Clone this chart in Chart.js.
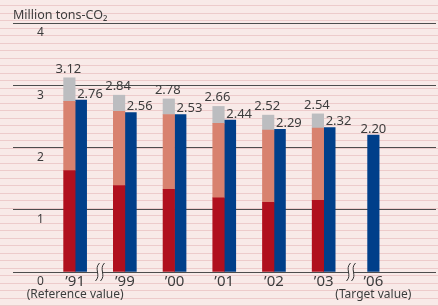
<!DOCTYPE html>
<html>
<head>
<meta charset="utf-8">
<script src="https://cdn.jsdelivr.net/npm/chart.js@4/dist/chart.umd.min.js"></script>
<style>
    html, body { margin: 0; padding: 0; background: #f8eae8; }
    #chart { width: 438px; height: 306px; }
</style>
</head>
<body>
<div id="chart">
    <canvas id="co2-chart" width="438" height="306"></canvas>
</div>
<script>
// fiscal years on the x axis, with the notes printed under the first and last
var years = ['’91', '’99', '’00', '’01', '’02', '’03', '’06'];
var notes = ['(Reference value)', '', '', '', '', '', '(Target value)'];

// left column: three stacked parts, total written on top
var redPart    = [1.63, 1.39, 1.33, 1.19, 1.12, 1.15, null];
var salmonPart = [1.11, 1.19, 1.20, 1.20, 1.16, 1.16, null];
var greyPart   = [0.38, 0.26, 0.25, 0.27, 0.24, 0.23, null];
var totals     = [3.12, 2.84, 2.78, 2.66, 2.52, 2.54, null];

// right column (blue)
var blueValues = [2.76, 2.56, 2.53, 2.44, 2.29, 2.32, 2.20];

var yMax = 4;
var breakMarks = [0.5, 5.55]; // "≈" axis break between '91/'99 and '03/'06

var textColor = '#3c3c3c';
var bgColor = '#f8eae8';
Chart.defaults.font.family = '"Noto Sans", sans-serif';

function pts(arr) {
    return arr.map(function(v, i) { return { x: i, y: v }; });
}

var background = {
    id: 'background',
    beforeDraw: function(chart) {
        var ctx = chart.ctx;
        ctx.save();
        ctx.fillStyle = bgColor;
        ctx.fillRect(0, 0, chart.width, chart.height);
        ctx.fillStyle = '#edcbcb';
        for (var y = 5; y < chart.height; y += 7.5) {
            ctx.fillRect(0, Math.round(y), chart.width, 1);
        }
        ctx.restore();
    }
};

var valueLabels = {
    id: 'valueLabels',
    afterDatasetsDraw: function(chart) {
        var ctx = chart.ctx;
        ctx.save();
        ctx.font = '13px "Noto Sans"';
        ctx.fillStyle = textColor;
        ctx.textBaseline = 'alphabetic';
        chart.getDatasetMeta(2).data.forEach(function(bar, i) {
            if (totals[i] == null) return;
            ctx.textAlign = 'center';
            ctx.fillText(totals[i].toFixed(2), bar.x - 1, bar.y - 5);
        });
        chart.getDatasetMeta(3).data.forEach(function(bar, i) {
            var txt = blueValues[i].toFixed(2);
            if (totals[i] == null) {
                ctx.textAlign = 'center';
                ctx.fillText(txt, bar.x, bar.y - 2);
            } else {
                ctx.textAlign = 'left';
                ctx.fillText(txt, bar.x - bar.width / 2 + 2, bar.y - 2.5);
            }
        });
        ctx.restore();
    }
};

var axisBreaks = {
    id: 'axisBreaks',
    afterDraw: function(chart) {
        var ctx = chart.ctx;
        var xs = chart.scales.x, ys = chart.scales.y;
        ctx.save();
        breakMarks.forEach(function(v) {
            var cx = xs.getPixelForValue(v);
            var cy = ys.getPixelForValue(0);
            var top = cy - 9, bot = cy + 9;
            var l = cx - 2.5, r = cx + 2.5;
            // gap between the two strokes
            ctx.beginPath();
            ctx.moveTo(l + 2, top);
            ctx.bezierCurveTo(l - 4, top + 6, l + 4, bot - 6, l - 2, bot);
            ctx.lineTo(r - 2, bot);
            ctx.bezierCurveTo(r + 4, bot - 6, r - 4, top + 6, r + 2, top);
            ctx.closePath();
            ctx.fillStyle = bgColor;
            ctx.fill();
            ctx.strokeStyle = '#333';
            ctx.lineWidth = 1;
            [l, r].forEach(function(x0) {
                ctx.beginPath();
                ctx.moveTo(x0 + 2, top);
                ctx.bezierCurveTo(x0 - 4, top + 6, x0 + 4, bot - 6, x0 - 2, bot);
                ctx.stroke();
            });
        });
        ctx.restore();
    }
};

var xMin = -1.25, xMax = 7.26;

function noSidePadding(scale) {
    scale.paddingLeft = 0;
    scale.paddingRight = 0;
}

new Chart(document.getElementById('co2-chart'), {
    type: 'bar',
    data: {
        datasets: [
            { data: pts(redPart), backgroundColor: '#b0101e', stack: 'a' },
            { data: pts(salmonPart), backgroundColor: '#d8826f', stack: 'a' },
            { data: pts(greyPart), backgroundColor: '#bcbdc0', stack: 'a' },
            { data: pts(blueValues), backgroundColor: '#003f8a', stack: 'b' }
        ]
    },
    options: {
        responsive: false,
        animation: false,
        devicePixelRatio: 1,
        skipNull: true,
        barThickness: 11.5,
        borderSkipped: false,
        layout: { padding: { left: 13, right: 2, top: 0, bottom: 5 } },
        plugins: {
            legend: { display: false },
            tooltip: { enabled: false },
            title: {
                display: true,
                text: 'Million tons-CO₂',
                align: 'start',
                color: textColor,
                font: { size: 12.5, weight: 'normal' },
                padding: { top: 8, bottom: 0 }
            }
        },
        scales: {
            x: {
                type: 'linear',
                min: xMin,
                max: xMax,
                offset: false,
                grid: { display: false, drawTicks: false },
                border: { display: false },
                afterFit: function(scale) { noSidePadding(scale); scale.height = 17; },
                ticks: {
                    stepSize: 1,
                    autoSkip: false,
                    maxRotation: 0,
                    padding: 2,
                    color: textColor,
                    font: { size: 15, lineHeight: 1 },
                    callback: function(v) { return Number.isInteger(v) ? (years[v] || '') : ''; }
                }
            },
            x2: {
                type: 'linear',
                position: 'bottom',
                min: xMin,
                max: xMax,
                offset: false,
                grid: { display: false, drawTicks: false },
                border: { display: false },
                afterFit: function(scale) { noSidePadding(scale); scale.height = 12; },
                ticks: {
                    stepSize: 1,
                    autoSkip: false,
                    maxRotation: 0,
                    padding: 0,
                    color: textColor,
                    font: { size: 12, lineHeight: 1 },
                    callback: function(v) { return Number.isInteger(v) ? (notes[v] || '') : ''; }
                }
            },
            y: {
                min: 0,
                max: yMax,
                stacked: true,
                grid: { color: '#4d4d4d', lineWidth: 1, drawTicks: false },
                border: { display: false },
                afterFit: function(scale) {
                    scale.width = 0;
                    scale.paddingTop = 0;
                    scale.paddingBottom = 0;
                },
                ticks: {
                    stepSize: 1,
                    mirror: true,
                    padding: 24,
                    labelOffset: 10,
                    color: textColor,
                    font: { size: 12 }
                }
            }
        }
    },
    plugins: [background, valueLabels, axisBreaks]
});
</script>
</body>
</html>
